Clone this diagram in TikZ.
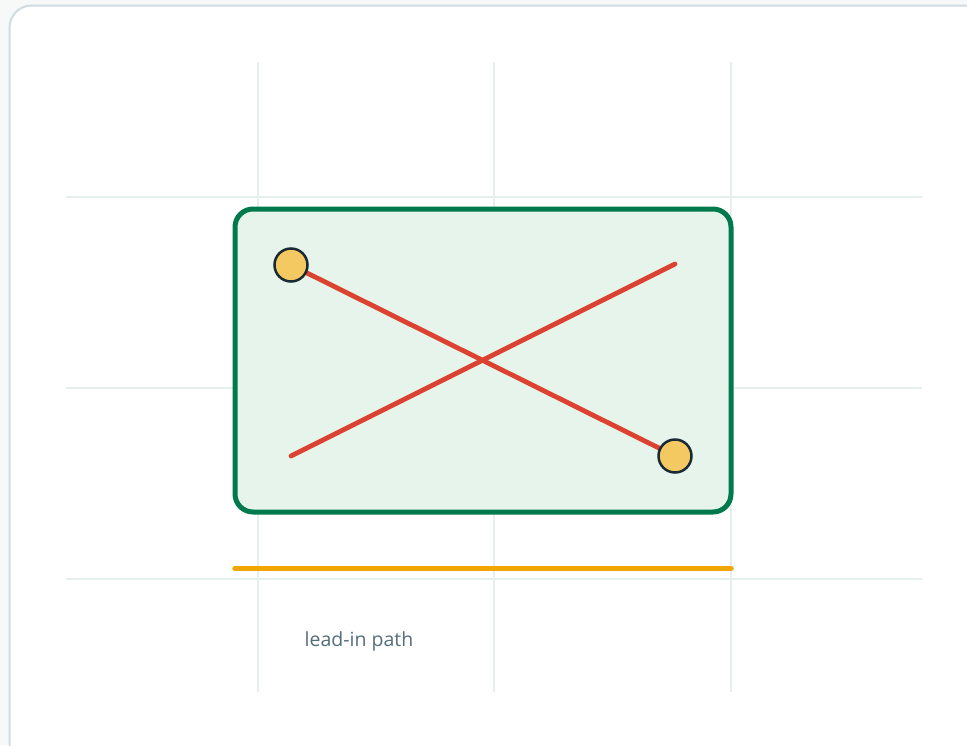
\documentclass[tikz,border=0pt]{standalone}
\usepackage{fontspec}
\setmainfont{Open Sans}
\definecolor{bgout}{HTML}{F7F9F9}
\definecolor{frame}{HTML}{CFDCE0}
\definecolor{gridc}{HTML}{E6EEEE}
\definecolor{boxg}{HTML}{007A4D}
\definecolor{boxfill}{HTML}{E7F4EC}
\definecolor{redl}{HTML}{DC4230}
\definecolor{dotfill}{HTML}{F5C961}
\definecolor{dotline}{HTML}{1A2A33}
\definecolor{orangel}{HTML}{F0A500}
\definecolor{txt}{HTML}{546E7A}
\tikzset{
  gridline/.style={draw=gridc, line width=1.3pt},
  redline/.style={draw=redl, line width=4.8pt, line cap=round},
  dot/.style={circle, fill=dotfill, draw=dotline, line width=2.5pt, minimum size=33pt, inner sep=0pt},
  lbl/.style={text=txt, font=\fontsize{19.5}{23}\selectfont, inner sep=0pt},
}
\begin{document}
\begin{tikzpicture}[x=1pt,y=-1pt]
\useasboundingbox (0,0) rectangle (967,745);
\fill[bgout] (0,0) rectangle (967,745);
\draw[draw=frame, fill=white, line width=2pt, rounded corners=22pt] (9.5,5.5) rectangle (990,770);
% grid
\foreach \x in {258,494,731} \draw[gridline] (\x,62) -- (\x,692);
\foreach \y in {197,388,579} \draw[gridline] (66,\y) -- (922,\y);
% box
\node[draw=boxg, fill=boxfill, line width=5pt, rounded corners=18pt, minimum width=496pt, minimum height=303pt, inner sep=0pt] (box) at (483,360.5) {};
% lines
\coordinate (a1) at (291,265);
\coordinate (a2) at (675,456);
\coordinate (b1) at (291,456);
\coordinate (b2) at (675,264);
\draw[redline] (a1) -- (a2);
\draw[redline] (b1) -- (b2);
\node[dot] (d1) at (a1) {};
\node[dot] (d2) at (a2) {};
% lead-in
\coordinate (l1) at (235,568.5);
\coordinate (l2) at (731,568.5);
\draw[draw=orangel, line width=5.5pt, line cap=round] (l1) -- (l2);
\node[lbl] (lab) at (359,641) {lead-in path};
\end{tikzpicture}
\end{document}
